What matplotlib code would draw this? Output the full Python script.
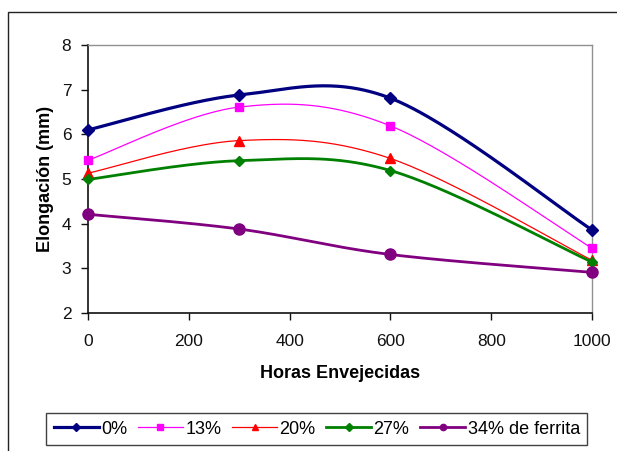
import numpy as np
import matplotlib
matplotlib.use("Agg")
import matplotlib.pyplot as plt
from matplotlib.lines import Line2D
from matplotlib.patches import Rectangle

plt.rcParams['font.family'] = ['Liberation Sans', 'DejaVu Sans']

# Aging hours and elongation per ferrite content
hours = [0, 300, 600, 1000]
labels = ["0%", "13%", "20%", "27%", "34% de ferrita"]
elong_0 = [6.10, 6.88, 6.81, 3.86]
elong_13 = [5.42, 6.61, 6.19, 3.45]
elong_20 = [5.13, 5.86, 5.46, 3.18]
elong_27 = [4.99, 5.41, 5.19, 3.14]
elong_34 = [4.21, 3.88, 3.31, 2.91]

series = [elong_0, elong_13, elong_20, elong_27, elong_34]
colors = ["#000080", "#FF00FF", "#FF0000", "#008000", "#800080"]
markers = ["D", "s", "^", "D", "o"]
msizes = [6.0, 5.5, 6.5, 5.5, 8.0]
lwidths = [2.3, 0.9, 0.9, 2.0, 2.0]


def smooth_curve(x, y, n=60):
    """Catmull-Rom style Bezier smoothing through the points."""
    pts = np.column_stack([x, y]).astype(float)
    out = []
    m = len(pts)
    for i in range(m - 1):
        p0 = pts[i - 1] if i > 0 else pts[i]
        p1 = pts[i]
        p2 = pts[i + 1]
        p3 = pts[i + 2] if i + 2 < m else pts[i + 1]
        c1 = p1 + (p2 - p0) / 6.0
        c2 = p2 - (p3 - p1) / 6.0
        t = np.linspace(0, 1, n)[:, None]
        seg = ((1 - t) ** 3) * p1 + 3 * ((1 - t) ** 2) * t * c1 \
            + 3 * (1 - t) * t ** 2 * c2 + t ** 3 * p2
        out.append(seg if i == 0 else seg[1:])
    arr = np.vstack(out)
    return arr[:, 0], arr[:, 1]


W, H = 617, 451
fig = plt.figure(figsize=(W / 100, H / 100), dpi=100)
fig.patch.set_facecolor("white")

# outer chart border
fig.patches.append(Rectangle((8 / W, -0.02), 1.05, 1 - 12 / H + 0.02,
                             transform=fig.transFigure, fill=False,
                             edgecolor="#222222", linewidth=1.0))

ax = fig.add_axes([88 / W, 1 - 313 / H, (592 - 88) / W, (313 - 45) / H])

handles = []
for vals, c, mk, ms, lw, lab in zip(series, colors, markers, msizes, lwidths, labels):
    sx, sy = smooth_curve(hours, vals)
    ax.plot(sx, sy, color=c, linewidth=lw, solid_capstyle="round", zorder=3)
    ax.plot(hours, vals, linestyle="none", marker=mk, markersize=ms,
            color=c, markeredgecolor=c, zorder=4, clip_on=False)
    handles.append(Line2D([], [], color=c, linewidth=lw, marker=mk,
                          markersize=4.5, markeredgecolor=c))

ax.set_xlim(0, 1000)
ax.set_ylim(2, 8)
ax.set_xticks([0, 200, 400, 600, 800, 1000])
ax.set_yticks([2, 3, 4, 5, 6, 7, 8])

for side in ("top", "right"):
    ax.spines[side].set_color("#909090")
    ax.spines[side].set_linewidth(1.0)
for side in ("left", "bottom"):
    ax.spines[side].set_color("#111111")
    ax.spines[side].set_linewidth(1.2)

ax.tick_params(axis="both", direction="out", length=5, width=1.0,
               color="#111111", labelsize=12.5, labelcolor="#111111")
ax.tick_params(axis="x", pad=10)
ax.tick_params(axis="y", pad=7)

ax.set_xlabel("Horas Envejecidas", fontsize=13, fontweight="bold", labelpad=12)
ax.set_ylabel("Elongación (mm)", fontsize=13, fontweight="bold", labelpad=5.5)

leg = fig.legend(handles, labels, ncol=5, loc="upper left",
                 bbox_to_anchor=(46 / W, 1 - 413 / H),
                 fontsize=13, frameon=True, fancybox=False,
                 handlelength=2.5, handletextpad=0.12, columnspacing=0.6,
                 borderpad=0.42, borderaxespad=0.0)
leg.get_frame().set_edgecolor("#111111")
leg.get_frame().set_linewidth(1.0)

fig.savefig("out.png", dpi=100, facecolor="white")
